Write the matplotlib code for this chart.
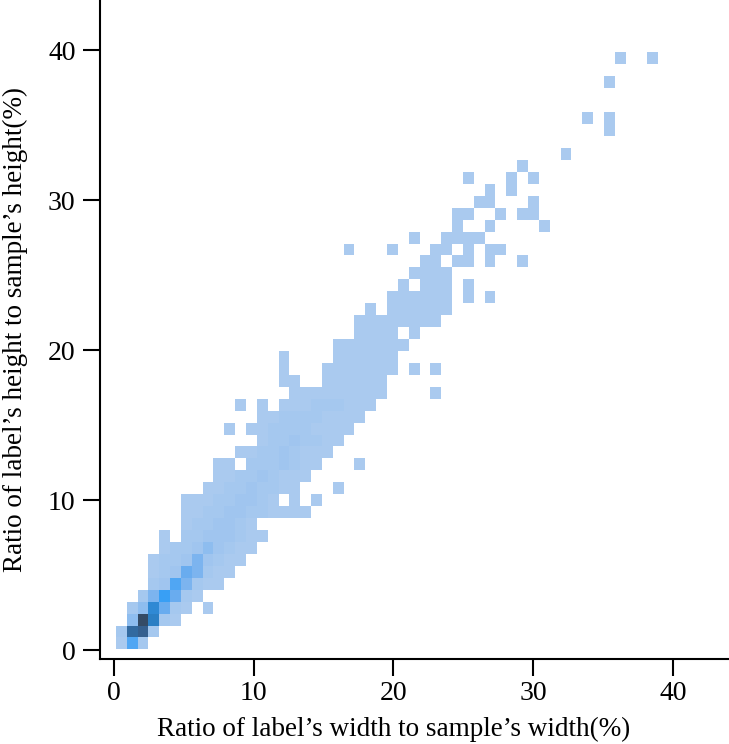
import numpy as np
import matplotlib
matplotlib.use("Agg")
import matplotlib.pyplot as plt
from matplotlib.colors import LinearSegmentedColormap

plt.rcParams['font.family'] = 'Liberation Serif'

# bin layout of the 2d histogram (values in %)
x_start = 0.14
x_binwidth = 0.776
y_start = 0.05
y_binwidth = 0.796

# counts per bin, top row first, 10 bins per block
# '.' = empty, 1-9, then a=10, b=11 ... k=20
E = ".........."
count_rows = [
    E + E + E + E + "......1..1",
    E + E + E + E + E,
    E + E + E + E + ".....1....",
    E + E + E + E + E,
    E + E + E + E + E,
    E + E + E + E + "...1.1....",
    E + E + E + E + ".....1....",
    E + E + E + E + E,
    E + E + E + E + ".1........",
    E + E + E + ".......1.." + E,
    E + E + E + "..1...1.1." + E,
    E + E + E + "....1.1..." + E,
    E + E + E + "...11...1." + E,
    E + E + E + ".11..1.11." + E,
    E + E + E + ".1..1....1" + E,
    E + E + ".......1.." + "1111......" + E,
    E + E + ".1...1...1" + "1.1.11...." + E,
    E + E + "........11" + ".11.1..1.." + E,
    E + E + ".......111" + "1........." + E,
    E + E + "......1.11" + "1.1......." + E,
    E + E + ".....11111" + "1.1.1....." + E,
    E + E + "...1.11111" + "1........." + E,
    E + E + "..11111111" + E + E,
    E + E + "..1111.1.." + E + E,
    E + E + "1111111..." + E + E,
    E + ".....1...." + "111111...." + E + E,
    E + ".....1...1" + "111111.1.1" + E + E,
    E + ".....11..1" + "11111....." + E + E,
    E + "......1111" + "11111....1" + E + E,
    E + ".1.1.11122" + "2111......" + E + E,
    E + "...1122221" + "111......." + E + E,
    E + "1.11222211" + "11........" + E + E,
    E + "...1223221" + "1........." + E + E,
    E + ".112232111" + E + E + E,
    ".........1" + "1.2223211." + "..1......." + E + E,
    ".........1" + "12232111.." + E + E + E,
    "........11" + "2232211..." + "1........." + E + E,
    "......1112" + "23321.1.1." + E + E + E,
    "......1122" + "33221111.." + E + E + E,
    "......1223" + "321......." + E + E + E,
    "....1.2233" + "3211......" + E + E + E,
    "....122343" + "211......." + E + E + E,
    "...1223532" + "11........" + E + E + E,
    "...1236521" + "1........." + E + E + E,
    "...2385211" + E + E + E + E,
    "..25a621.." + E + E + E + E,
    ".24c621.1." + E + E + E + E,
    ".4kd21...." + E + E + E + E,
    "2fg2......" + E + E + E + E,
    "182......." + E + E + E + E,
]

ticks = [0, 10, 20, 30, 40]
xlabel = "Ratio of label\u2019s width to sample\u2019s width(%)"
ylabel = "Ratio of label\u2019s height to sample\u2019s height(%)"


def decode(ch):
    if ch == '.':
        return 0
    if ch.isdigit():
        return int(ch)
    return ord(ch) - ord('a') + 10


counts = np.array([[decode(c) for c in row] for row in count_rows[::-1]])
nrows, ncols = counts.shape
xedges = x_start + x_binwidth * np.arange(ncols + 1)
yedges = y_start + y_binwidth * np.arange(nrows + 1)

cmap = LinearSegmentedColormap.from_list("label_blues", [
    (0.0, "#aacaef"), (0.105, "#a0c5ef"), (0.26, "#6aacef"),
    (0.47, "#38a0f6"), (0.63, "#2b7fc4"), (0.79, "#35608f"),
    (1.0, "#344b66")])

fig = plt.figure(figsize=(7.29, 7.44), dpi=100)
ax = fig.add_axes([0.137, 0.114, 0.861, 0.886])

ax.pcolormesh(xedges, yedges, np.ma.masked_equal(counts, 0),
              cmap=cmap, vmin=1, vmax=20)

ax.set_xlim(-1.0, 43.9)
ax.set_ylim(-0.6, 43.35)
ax.set_xticks(ticks)
ax.set_yticks(ticks)

for side in ['top', 'right']:
    ax.spines[side].set_visible(False)
for side in ['left', 'bottom']:
    ax.spines[side].set_linewidth(1.5)

ax.tick_params(axis='both', direction='out', length=12.5, width=1.5,
               labelsize=20, colors='black')
ax.tick_params(axis='x', pad=3)
ax.tick_params(axis='y', pad=5)

ax.set_xlabel(xlabel, fontsize=19.5)
ax.set_ylabel(ylabel, fontsize=19.5)
ax.xaxis.set_label_coords(0.468, -0.088)
ax.yaxis.set_label_coords(-0.115, 0.5)

fig.savefig("out.png", dpi=100)
